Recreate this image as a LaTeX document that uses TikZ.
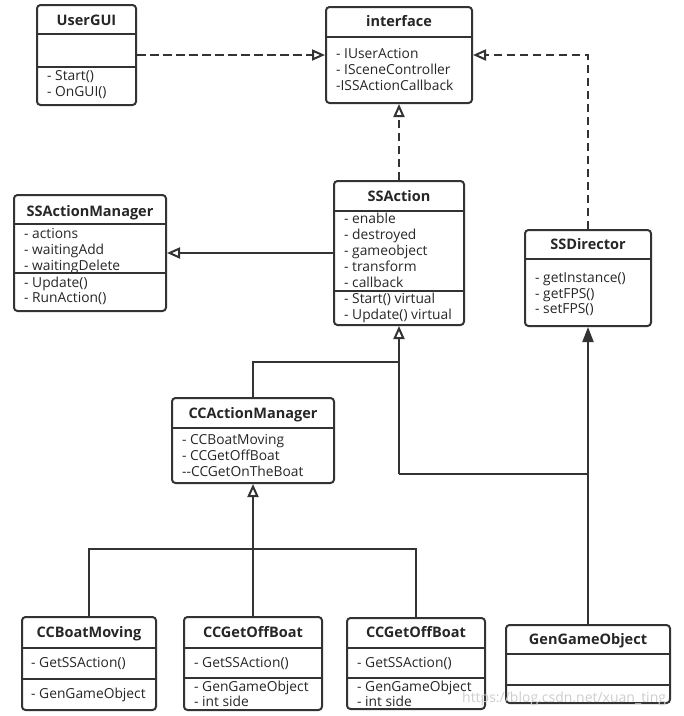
\documentclass[tikz,border=0pt]{standalone}
\usepackage{fontspec}
\setmainfont{Open Sans}
\usetikzlibrary{arrows.meta,fit}
\definecolor{lc}{HTML}{333333}
\definecolor{tc}{HTML}{262626}
\definecolor{wm}{HTML}{CDCDCD}
\begin{document}
\begin{tikzpicture}[x=1pt,y=-1pt,
  box/.style={draw=lc, line width=2pt, rounded corners=3.5pt, inner sep=0pt, fit={#1}},
  sep/.style={draw=lc, line width=2pt},
  ttl/.style={font=\fontsize{14.5}{16}\selectfont\bfseries, text=tc, anchor=base, inner sep=0pt},
  mem/.style={font=\fontsize{13.8}{16}\selectfont, text=tc, anchor=base west, inner sep=0pt},
  link/.style={draw=lc, line width=2pt},
  dashline/.style={dash pattern=on 8.5pt off 4.5pt},
  realize/.style={-{Triangle[open, length=13pt, width=11pt]}},
  assoc/.style={-{Triangle[length=15pt, width=11pt]}},
]
\useasboundingbox (0,0) rectangle (684,716);

% ---------- UserGUI ----------
\node[box={(37,5) (136,105)}] (usergui) {};
\draw[sep] (37,34) -- (136,34);
\draw[sep] (37,67) -- (136,67);
\node[ttl] (usergui-t) at (86.5,25) {UserGUI};
\node[mem] (usergui-m1) at (47,80) {- Start()};
\node[mem] (usergui-m2) at (47,96) {- OnGUI()};

% ---------- interface ----------
\node[box={(326,7) (472,103)}] (iface) {};
\draw[sep] (326,37) -- (472,37);
\node[ttl] (iface-t) at (399,26) {interface};
\node[mem] (iface-m1) at (336,58) {- IUserAction};
\node[mem] (iface-m2) at (336,74) {- ISceneController};
\node[mem] (iface-m3) at (336,90) {-ISSActionCallback};

% ---------- SSActionManager ----------
\node[box={(14,195) (166,311)}] (ssam) {};
\draw[sep] (14,224) -- (166,224);
\draw[sep] (14,273) -- (166,273);
\node[ttl] (ssam-t) at (90,216) {SSActionManager};
\node[mem] (ssam-a1) at (24,238) {- actions};
\node[mem] (ssam-a2) at (24,254) {- waitingAdd};
\node[mem] (ssam-a3) at (24,270) {- waitingDelete};
\node[mem] (ssam-m1) at (24,287) {- Update()};
\node[mem] (ssam-m2) at (24,302) {- RunAction()};

% ---------- SSAction ----------
\node[box={(334,181) (464,325)}] (ssaction) {};
\draw[sep] (334,211) -- (464,211);
\draw[sep] (334,291) -- (464,291);
\node[ttl] (ssaction-t) at (399,201) {SSAction};
\node[mem] (ssaction-a1) at (344,223) {- enable};
\node[mem] (ssaction-a2) at (344,239) {- destroyed};
\node[mem] (ssaction-a3) at (344,255) {- gameobject};
\node[mem] (ssaction-a4) at (344,271) {- transform};
\node[mem] (ssaction-a5) at (344,287) {- callback};
\node[mem] (ssaction-m1) at (344,303) {- Start() virtual};
\node[mem] (ssaction-m2) at (344,319) {- Update() virtual};

% ---------- SSDirector ----------
\node[box={(525,230) (651,326)}] (ssdir) {};
\draw[sep] (525,259) -- (651,259);
\node[ttl] (ssdir-t) at (588,249) {SSDirector};
\node[mem] (ssdir-m1) at (535,282) {- getInstance()};
\node[mem] (ssdir-m2) at (535,298) {- getFPS()};
\node[mem] (ssdir-m3) at (535,313) {- setFPS()};

% ---------- CCActionManager ----------
\node[box={(172,398) (334,483)}] (ccam) {};
\draw[sep] (172,428) -- (334,428);
\node[ttl] (ccam-t) at (253,418) {CCActionManager};
\node[mem] (ccam-a1) at (182,444) {- CCBoatMoving};
\node[mem] (ccam-a2) at (182,460) {- CCGetOffBoat};
\node[mem] (ccam-a3) at (182,476) {{-}{-}CCGetOnTheBoat};

% ---------- CCBoatMoving ----------
\node[box={(22,617) (156,710)}] (boat) {};
\draw[sep] (22,648) -- (156,648);
\draw[sep] (22,679) -- (156,679);
\node[ttl] (boat-t) at (89,637) {CCBoatMoving};
\node[mem] (boat-m1) at (31,667) {- GetSSAction()};
\node[mem] (boat-a1) at (31,698) {- GenGameObject};

% ---------- CCGetOffBoat (1) ----------
\node[box={(184,617) (322,710)}] (off1) {};
\draw[sep] (184,648) -- (322,648);
\draw[sep] (184,678) -- (322,678);
\node[ttl] (off1-t) at (253,637) {CCGetOffBoat};
\node[mem] (off1-m1) at (194,667) {- GetSSAction()};
\node[mem] (off1-a1) at (194,691) {- GenGameObject};
\node[mem] (off1-a2) at (194,706) {- int side};

% ---------- CCGetOffBoat (2) ----------
\node[box={(347,618) (485,709)}] (off2) {};
\draw[sep] (347,648) -- (485,648);
\draw[sep] (347,678) -- (485,678);
\node[ttl] (off2-t) at (416,637) {CCGetOffBoat};
\node[mem] (off2-m1) at (357,667) {- GetSSAction()};
\node[mem] (off2-a1) at (357,691) {- GenGameObject};
\node[mem] (off2-a2) at (357,706) {- int side};

% ---------- GenGameObject ----------
\node[box={(506,625) (670,703)}] (gen) {};
\draw[sep] (506,654) -- (670,654);
\draw[sep] (506,685) -- (670,685);
\node[ttl] (gen-t) at (588,644) {GenGameObject};

% ---------- junctions ----------
\coordinate (j1) at (399,362);
\coordinate (j2) at (399,474);
\coordinate (j3) at (253,549);

% ---------- connectors ----------
\draw[link, dashline, realize] (usergui.east |- iface.west) -- (iface.west);
\draw[link, dashline, realize] (ssdir.north) |- (iface.east);
\draw[link, dashline, realize] (ssaction.north) -- (iface.south);
\draw[link, realize] (ssaction.west) -- (ssam.east |- ssaction.west);
\draw[link] (ccam.north) |- (j1);
\draw[link] (gen.north) |- (j2);
\draw[link, realize] (j2) -- (ssaction.south);
\draw[link, assoc] (gen.north) -- (ssdir.south);
\draw[link] (boat.north) |- (off2.north |- j3) -- (off2.north);
\draw[link, realize] (off1.north) -- (ccam.south);

% ---------- watermark ----------
\node[font=\fontsize{14}{16}\selectfont, text=wm, anchor=base west, inner sep=0pt] (wmark) at (462,702) {https://blog.csdn.net/xuan\_ting};
\end{tikzpicture}
\end{document}
